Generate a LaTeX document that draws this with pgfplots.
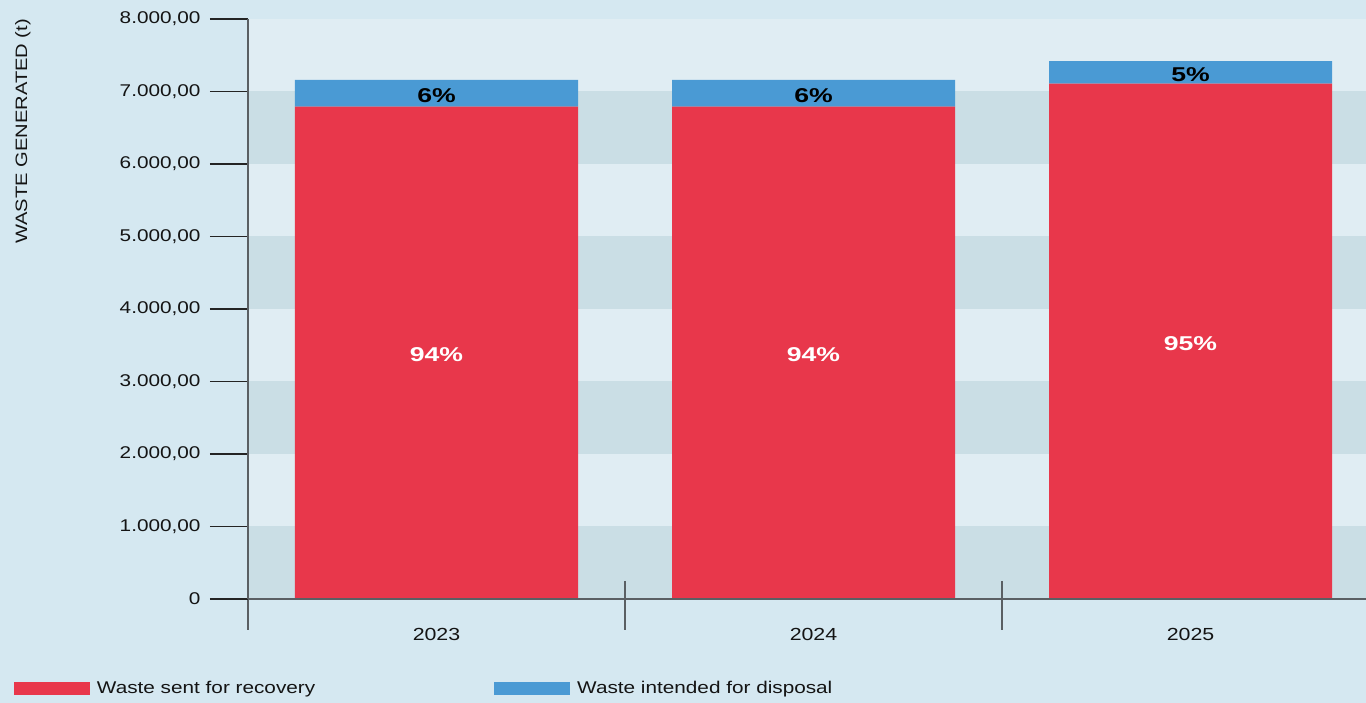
\documentclass[border=0pt]{standalone}
\usepackage{pgfplots}
\usepackage{pgfplotstable}
\pgfplotsset{compat=1.18}
\usepackage{fontspec}
\setmainfont{Liberation Sans}[FakeStretch=1.22]
\newfontfamily\pctfamily{Liberation Sans}[FakeStretch=1.33]
\definecolor{bgc}{HTML}{D5E8F1}
\definecolor{bandlight}{HTML}{E0EDF3}
\definecolor{banddark}{HTML}{CADEE5}
\definecolor{redc}{HTML}{E8374B}
\definecolor{bluec}{HTML}{4A9AD4}
\definecolor{axc}{HTML}{5A5F63}
\definecolor{txt}{HTML}{141414}
\newcommand\tickfont{\fontsize{17}{20}\selectfont}
\newcommand\pctfont{\pctfamily\bfseries\fontsize{20}{23}\selectfont}

\pgfplotstableread{
x rec dis prec pdis
0 6790 370 94 6
1 6790 370 94 6
2 7110 310 95 5
}\wastedata

\pgfplotsset{geom/.style={at={(248pt,104pt)}, anchor=south west,
  scale only axis, width=1118pt, height=580pt,
  xmin=-0.5, xmax=2.4655, ymin=0, ymax=8000}}

\begin{document}
\begin{tikzpicture}[x=1pt,y=1pt]
\fill[bgc] (0,0) rectangle (1366,703);
\path[use as bounding box] (0,0) rectangle (1366,703);
\begin{axis}[geom, hide axis]
\fill[bandlight] (axis cs:-0.5,0) rectangle (axis cs:2.4655,8000);
\fill[banddark] (axis cs:-0.5,0) rectangle (axis cs:2.4655,1000);
\fill[banddark] (axis cs:-0.5,2000) rectangle (axis cs:2.4655,3000);
\fill[banddark] (axis cs:-0.5,4000) rectangle (axis cs:2.4655,5000);
\fill[banddark] (axis cs:-0.5,6000) rectangle (axis cs:2.4655,7000);
\end{axis}
\begin{axis}[
  geom, axis on top,
  clip=false,
  ybar stacked, bar width=283pt,
  axis x line*=bottom, axis y line*=left,
  axis line style={-, draw=axc, line width=1.4pt},
  xtick={0,1,2}, xticklabels={2023,2024,2025},
  x tick style={draw=none},
  ytick={0,1000,2000,3000,4000,5000,6000,7000,8000},
  yticklabels={0,{1.000,00},{2.000,00},{3.000,00},{4.000,00},{5.000,00},{6.000,00},{7.000,00},{8.000,00}},
  y tick style={draw=txt!85!gray, line width=1.3pt},
  tick align=outside, major tick length=38pt,
  ticklabel style={font=\tickfont, text=txt},
  xticklabel style={font=\fontsize{17.5}{20}\selectfont, yshift=12pt},
  yticklabel style={xshift=-6pt},
  ylabel={WASTE GENERATED (t)},
  ylabel style={at={(axis description cs:-0.2013,0.8060)}, anchor=center, font=\fontsize{16.5}{20}\selectfont, text=txt},
  legend columns=2,
  legend style={draw=none, fill=none, at={(axis description cs:-0.2093,-0.154)}, anchor=west,
    inner sep=0pt, outer sep=0pt, font=\tickfont, text=txt,
    nodes={inner xsep=7pt},
    /tikz/every even column/.append style={column sep=172pt}},
  legend image code/.code={\fill[#1] (0pt,-6.4pt) rectangle (76pt,6.4pt);},
  nodes near coords={\pgfplotspointmeta\%},
  point meta=explicit symbolic,
  every node near coord/.append style={anchor=center, font=\pctfont, yshift=-2pt},
]
\addplot[fill=redc, draw=none, every node near coord/.append style={text=white}]
  table[x=x, y=rec, meta=prec] {\wastedata};
\addlegendentry{Waste sent for recovery}
\addplot[fill=bluec, draw=none, every node near coord/.append style={text=black}]
  table[x=x, y=dis, meta=pdis] {\wastedata};
\addlegendentry{Waste intended for disposal}
\draw[axc, line width=1.4pt] (axis cs:-0.5,0) -- ++(0pt,-31pt);
\draw[axc, line width=1.4pt] (axis cs:0.5,0) ++(0pt,18pt) -- ++(0pt,-49pt);
\draw[axc, line width=1.4pt] (axis cs:1.5,0) ++(0pt,18pt) -- ++(0pt,-49pt);
\end{axis}
\end{tikzpicture}
\end{document}
